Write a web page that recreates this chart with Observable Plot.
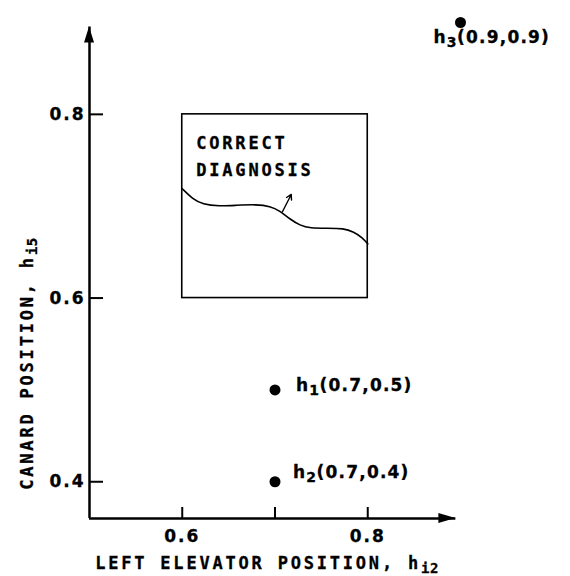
<!DOCTYPE html>
<html><head><meta charset="utf-8">
<script src="https://cdn.jsdelivr.net/npm/d3@7"></script>
<script src="https://cdn.jsdelivr.net/npm/@observablehq/plot@0.6"></script>
<style>
body{margin:0;background:#fff}
#chart svg text{letter-spacing:2.8px;stroke:black;stroke-width:0.3px}
</style></head><body><div id="chart"></div>
<script>
// ---- data ----
const pointNames = ["h_1", "h_2", "h_3"];
const pointX = [0.7, 0.7, 0.9];
const pointY = [0.5, 0.4, 0.9];
const xTicks = [0.6, 0.7, 0.8];
const xTickLabels = [0.6, 0.8];
const yTicks = [0.4, 0.6, 0.8];
const xDomain = [0.5, 0.9];
const yDomain = [0.36, 0.9];
const axisEnd = 0.895;
const boxX = [0.6, 0.8];
const boxY = [0.6, 0.8];
const boundaryX = [0.600, 0.611, 0.622, 0.640, 0.658, 0.680, 0.695, 0.705, 0.716, 0.727, 0.738, 0.756, 0.774, 0.785, 0.794, 0.800];
const boundaryY = [0.719, 0.708, 0.702, 0.700, 0.701, 0.702, 0.700, 0.695, 0.686, 0.679, 0.676, 0.676, 0.676, 0.672, 0.666, 0.659];
const pointerFrom = [0.708, 0.694];
const pointerTo = [0.7175, 0.7128];
const regionLabel = "CORRECT\nDIAGNOSIS";
const xLabel = "LEFT ELEVATOR POSITION, h_i2";
const yLabel = "CANARD POSITION, h_i5";

// ---- tables built from the arrays ----
const points = pointNames.map((n, i) => ({name: n, x: pointX[i], y: pointY[i],
  label: `${n}(${pointX[i]},${pointY[i]})`}));
const boundary = boundaryX.map((x, i) => ({x, y: boundaryY[i]}));
const box = [{x1: boxX[0], x2: boxX[1], y1: boxY[0], y2: boxY[1]}];
const pointer = [{x1: pointerFrom[0], y1: pointerFrom[1], x2: pointerTo[0], y2: pointerTo[1]}];

function arrowHeads(index, scales) {
  const g = d3.create("svg:g").attr("fill", "black");
  const x0 = scales.x(xDomain[0]), y0 = scales.y(yDomain[0]);
  const xt = scales.x(axisEnd), yt = scales.y(axisEnd);
  g.append("path").attr("d", `M${xt},${y0}L${xt - 17},${y0 - 5}L${xt - 17},${y0 + 5}Z`);
  g.append("path").attr("d", `M${x0},${yt}L${x0 - 5},${yt + 16}L${x0 + 5},${yt + 16}Z`);
  return g.node();
}

const fs = 17;
const fmt = d3.format(".1f");
const chart = Plot.plot({
  width: 570, height: 576,
  marginLeft: 89, marginRight: 110, marginTop: 22, marginBottom: 58,
  x: {domain: xDomain},
  y: {domain: yDomain},
  style: {fontFamily: "'DejaVu Sans Mono', monospace", fontSize: "17px", fontWeight: "bold", color: "black", background: "white", overflow: "visible"},
  marks: [
    // axis lines
    Plot.ruleX([xDomain[0]], {y1: yDomain[0], y2: axisEnd, strokeWidth: 2.5}),
    Plot.ruleY([yDomain[0]], {x1: xDomain[0], x2: axisEnd, strokeWidth: 2.5}),
    arrowHeads,
    // ticks (inward)
    Plot.axisX({ticks: xTicks, tickSize: -11, tickFormat: () => "", label: null, strokeWidth: 2}),
    Plot.axisY({ticks: yTicks, tickSize: -14, tickFormat: () => "", label: null, strokeWidth: 2}),
    Plot.axisX({ticks: xTickLabels, tickSize: 0, tickPadding: 11, tickFormat: fmt, label: null, fontSize: fs, fontWeight: "bold"}),
    Plot.axisY({ticks: yTicks, tickSize: 0, tickPadding: 4, tickFormat: fmt, label: null, fontSize: fs, fontWeight: "bold"}),
    // axis titles
    Plot.text([xLabel], {frameAnchor: "bottom", textAnchor: "middle", lineAnchor: "bottom", dy: 50, dx: -8, fontSize: fs, fontWeight: "bold"}),
    Plot.text([yLabel], {frameAnchor: "left", textAnchor: "middle", rotate: -90, lineAnchor: "middle", dx: -61.5, dy: 93, fontSize: fs, fontWeight: "bold"}),
    // region box
    Plot.rect(box, {x1: "x1", x2: "x2", y1: "y1", y2: "y2", fill: "none", stroke: "black", strokeWidth: 1.6}),
    Plot.text([regionLabel], {x: boxX[0], y: boxY[1], textAnchor: "start", lineAnchor: "top", dx: 14, dy: 14.5, lineHeight: 1.63, fontSize: fs, fontWeight: "bold"}),
    Plot.line(boundary, {x: "x", y: "y", curve: "basis", strokeWidth: 1.6}),
    Plot.arrow(pointer, {x1: "x1", y1: "y1", x2: "x2", y2: "y2", headLength: 6, strokeWidth: 1.4}),
    // points
    Plot.dot(points, {x: "x", y: "y", r: 5.5, fill: "black"}),
    Plot.text(points.filter(d => d.name === "h_1"), {x: "x", y: "y", text: "label", textAnchor: "start", lineAnchor: "middle", dx: 21, dy: -4, fontSize: fs, fontWeight: "bold"}),
    Plot.text(points.filter(d => d.name === "h_2"), {x: "x", y: "y", text: "label", textAnchor: "start", lineAnchor: "middle", dx: 18, dy: -9, fontSize: fs, fontWeight: "bold"}),
    Plot.text(points.filter(d => d.name === "h_3"), {x: "x", y: "y", text: "label", textAnchor: "start", lineAnchor: "middle", dx: -27, dy: 15, fontSize: fs, fontWeight: "bold"})
  ]
});

// per-text font/spacing and subscripts ("h_xx" -> h with lowered, smaller xx)
d3.select(chart).selectAll("text").each(function () {
  if (this.querySelector("tspan")) return;
  const t = this.textContent;
  const sel = d3.select(this);
  if (/^[0-9.]+$/.test(t)) sel.style("letter-spacing", "2px").style("font-family", "'DejaVu Sans', sans-serif");
  if (t.includes("(")) sel.style("letter-spacing", "1.2px").style("font-family", "'DejaVu Sans', sans-serif");
  const m = t.match(/^(.*h)_([0-9a-z]+)(.*)$/);
  if (!m) return;
  sel.text(null);
  sel.append("tspan").text(m[1]);
  sel.append("tspan").attr("dy", 4).attr("font-size", 14).style("letter-spacing", "0.5px").text(m[2]);
  if (m[3]) sel.append("tspan").attr("dy", -4).text(m[3]);
});

document.getElementById("chart").appendChild(chart);
</script></body></html>
